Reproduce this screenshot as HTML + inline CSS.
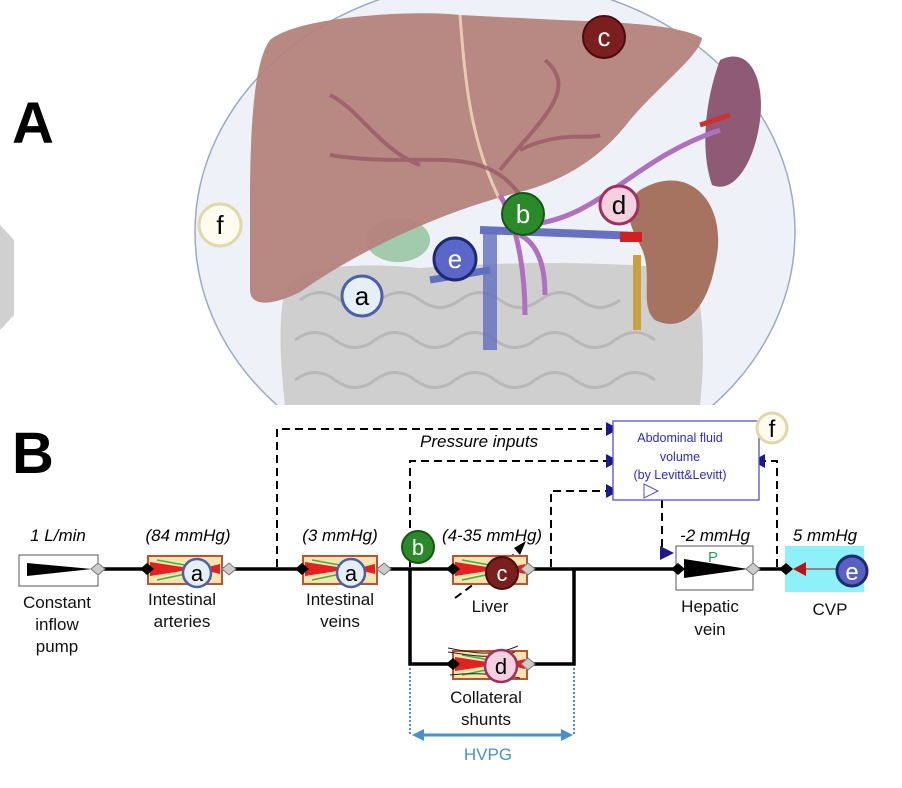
<!DOCTYPE html>
<html><head><meta charset="utf-8"><style>
html,body{margin:0;padding:0;background:#fff;}
svg{display:block;font-family:"Liberation Sans",sans-serif;}
</style></head><body>
<svg width="902" height="788" viewBox="0 0 902 788" xmlns="http://www.w3.org/2000/svg">
<defs>
<clipPath id="top"><rect x="0" y="0" width="902" height="405"/></clipPath>
</defs>
<!-- Panel A -->
<text x="12" y="143" font-size="58" font-weight="bold">A</text>
<path d="M0,225 L14,240 L14,315 L0,330Z" fill="#d0d0d0"/>
<g clip-path="url(#top)">
<ellipse cx="495" cy="232" rx="300" ry="252" fill="#eef2f8" stroke="#9aaac4" stroke-width="1.5"/>
<!-- intestines -->
<path d="M285,290 C300,265 360,262 420,268 C500,262 600,260 690,270 C705,300 705,360 700,405 L285,405 C280,360 278,320 285,290Z" fill="#cfcfcf"/>
<g fill="none" stroke="#b8b8b8" stroke-width="3">
<path d="M300,300 q20,-15 40,0 q20,15 40,0 q20,-15 40,0 q20,15 40,0 q20,-15 40,0 q20,15 40,0 q20,-15 40,0 q20,15 40,0"/>
<path d="M295,340 q20,-15 40,0 q20,15 40,0 q20,-15 40,0 q20,15 40,0 q20,-15 40,0 q20,15 40,0 q20,-15 40,0 q20,15 40,0 q20,-15 40,0"/>
<path d="M295,380 q20,-15 40,0 q20,15 40,0 q20,-15 40,0 q20,15 40,0 q20,-15 40,0 q20,15 40,0 q20,-15 40,0 q20,15 40,0 q20,-15 40,0"/>
</g>
<ellipse cx="398" cy="240" rx="32" ry="22" fill="#8fbf98" opacity="0.8"/>
<!-- liver -->
<path d="M270,40 C300,15 420,10 460,15 L560,20 C620,22 680,25 702,38 C700,55 660,85 630,120 C600,160 560,182 520,192 C440,212 360,250 300,292 C270,307 250,306 250,290 L250,200 C250,120 255,60 270,40Z" fill="#b4827c" opacity="0.95"/>
<path d="M460,15 C465,80 470,140 500,200" stroke="#e6cdb0" stroke-width="3" fill="none"/>
<g fill="none" stroke="#9a5a68" stroke-width="4" opacity="0.8">
<path d="M520,195 C480,140 420,170 330,155 M420,165 C380,150 360,110 330,95 M500,170 C540,120 580,90 545,60 M520,150 C560,130 590,140 600,135"/>
</g>
<!-- spleen -->
<path d="M720,60 C750,45 765,80 760,120 C755,160 735,195 712,185 C700,150 705,100 720,60Z" fill="#8e5a75"/>
<!-- kidney -->
<path d="M640,190 C690,160 730,205 715,265 C708,305 685,335 655,320 C638,305 655,272 640,245 C628,222 622,205 640,190Z" fill="#a57360"/>
<rect x="633" y="255" width="8" height="75" fill="#c8a040"/>
<!-- vessels -->
<path d="M480,230 L640,236" stroke="#6870c0" stroke-width="8"/>
<path d="M490,232 L490,350" stroke="#6070c0" stroke-width="14" opacity="0.8"/>
<path d="M430,280 L490,270" stroke="#6070c0" stroke-width="7"/>
<g fill="none" stroke="#b070c0" stroke-width="5">
<path d="M500,195 C520,230 525,280 525,315"/>
<path d="M525,225 C600,220 630,160 720,130"/>
<path d="M520,235 C540,245 545,270 545,295"/>
</g>
<rect x="620" y="232" width="22" height="10" fill="#d02020"/>
<path d="M700,125 L730,115" stroke="#d03030" stroke-width="5"/>
</g>
<!-- circles A -->
<g font-size="26" text-anchor="middle">
<circle cx="604" cy="37" r="21" fill="#7a1e1e" stroke="#4a0c0c" stroke-width="2"/><text x="604" y="46" fill="#fff">c</text>
<circle cx="523" cy="214" r="21" fill="#2a8a2a" stroke="#155515" stroke-width="2"/><text x="523" y="223" fill="#fff">b</text>
<circle cx="619" cy="205" r="19" fill="#f5d0e0" stroke="#a03060" stroke-width="3"/><text x="619" y="214" fill="#000">d</text>
<circle cx="455" cy="259" r="21" fill="#5a66c8" stroke="#1e2a70" stroke-width="3"/><text x="455" y="268" fill="#fff">e</text>
<circle cx="362" cy="296" r="20" fill="#e6eef8" stroke="#4a60a8" stroke-width="3"/><text x="362" y="305" fill="#000">a</text>
<circle cx="220" cy="225" r="21" fill="#fffbef" stroke="#e0d8a8" stroke-width="3"/><text x="220" y="234" fill="#000">f</text>
</g>

<!-- Panel B -->
<text x="12" y="473" font-size="58" font-weight="bold">B</text>
<g fill="none" stroke="#000" stroke-width="2" stroke-dasharray="8,5">
<path d="M277,567 L277,429 L608,429"/>
<path d="M410,567 L410,461 L608,461"/>
<path d="M551,567 L551,491 L608,491"/>
<path d="M662,500 L662,553 L672,553"/>
<path d="M777,567 L777,461 L760,461"/>
<path d="M455,598 L520,550"/>
</g>
<g fill="#1a1a8c">
<path d="M606,422 L619,429 L606,436Z"/><path d="M606,454 L619,461 L606,468Z"/><path d="M606,484 L619,491 L606,498Z"/>
<path d="M660,546 L674,553 L660,560Z"/><path d="M765,454 L752,461 L765,468Z"/>
</g>
<path d="M514,548 L526,541 L520,555Z" fill="#000"/>
<rect x="613" y="421" width="146" height="79" fill="#fff" stroke="#5050d0" stroke-width="1.3"/>
<g fill="#2a2ad0" font-size="12.5" text-anchor="middle"><text x="680" y="442">Abdominal fluid</text><text x="680" y="461">volume</text><text x="680" y="479">(by Levitt&amp;Levitt)</text></g>
<path d="M644,484 L658,491 L644,498Z" fill="#fff" stroke="#5050d0"/>
<circle cx="772" cy="428" r="15" fill="#fffbef" stroke="#e0d8a8" stroke-width="3"/><text x="772" y="437" font-size="24" text-anchor="middle">f</text>
<text x="420" y="447" font-size="17" font-style="italic">Pressure inputs</text>
<g stroke="#000" stroke-width="3.5" fill="none">
<path d="M98,569 L676,569"/><path d="M753,569 L790,569"/>
<path d="M410,569 L410,664 L574,664 L574,569"/>
</g>
<rect x="785" y="546" width="79" height="46" fill="#8ef0f8"/>
<path d="M805,569 L840,569" stroke="#888" stroke-width="2"/>
<path d="M793,569 L806,562 L806,576Z" fill="#c01010"/>
<circle cx="852" cy="571" r="15" fill="#5a60c0" stroke="#1e2a70" stroke-width="3"/><text x="852" y="580" font-size="24" fill="#fff" text-anchor="middle">e</text>
<rect x="19" y="555" width="79" height="31" fill="#fff" stroke="#555"/>
<path d="M27,563 L92,569 L27,576Z" fill="#000"/>
<rect x="676" y="546" width="77" height="44" fill="#fff" stroke="#555"/>
<path d="M684,559 L748,569 L684,578Z" fill="#000"/>
<text x="708" y="562" font-size="15" fill="#20a060">P</text>
<g id="cmp">
<rect x="148" y="556" width="74" height="28" fill="#f5e6b0" stroke="#c05030" stroke-width="2"/>
<path d="M150,562 L195,569 L150,576Z" fill="#e52020"/><path d="M220,564 L200,569 L220,574Z" fill="#e52020"/>
<path d="M157,560 L190,566 M157,580 L190,573" stroke="#40b040" stroke-width="1.5"/>
</g>
<use href="#cmp" x="155"/><use href="#cmp" x="305"/><use href="#cmp" x="305" y="95"/>
<g stroke="#222" fill="none" stroke-width="1"><path d="M448,652 C470,655 490,660 515,652 M448,648 C470,652 490,658 518,646 M450,675 C480,672 500,675 520,678"/></g>
<g fill="#000"><path d="M140,569 L147,563 L154,569 L147,575Z"/><path d="M295,569 L302,563 L309,569 L302,575Z"/><path d="M446,569 L453,563 L460,569 L453,575Z"/><path d="M446,664 L453,658 L460,664 L453,670Z"/><path d="M671,569 L678,563 L685,569 L678,575Z"/><path d="M779,569 L786,563 L793,569 L786,575Z"/></g>
<g fill="#ccc" stroke="#777"><path d="M91,569 L98,563 L105,569 L98,575Z"/><path d="M222,569 L229,563 L236,569 L229,575Z"/><path d="M377,569 L384,563 L391,569 L384,575Z"/><path d="M521,569 L528,563 L535,569 L528,575Z"/><path d="M521,664 L528,658 L535,664 L528,670Z"/><path d="M746,569 L753,563 L760,569 L753,575Z"/></g>
<g font-size="22" text-anchor="middle">
<circle cx="197" cy="573" r="14" fill="#e6eef8" stroke="#4a60a8" stroke-width="2.5"/><text x="197" y="581">a</text>
<circle cx="351" cy="573" r="14" fill="#e6eef8" stroke="#4a60a8" stroke-width="2.5"/><text x="351" y="581">a</text>
<circle cx="502" cy="573" r="16" fill="#7a1e1e" stroke="#4a0c0c" stroke-width="2"/><text x="502" y="581" fill="#fff">c</text>
<circle cx="501" cy="666" r="16" fill="#f5d0e0" stroke="#a03060" stroke-width="2.5"/><text x="501" y="674">d</text>
<circle cx="418" cy="547" r="16" fill="#2a8a2a" stroke="#155515" stroke-width="2"/><text x="418" y="555" fill="#fff">b</text>
</g>
<g stroke="#4a90d0" stroke-width="2" stroke-dasharray="2,2"><path d="M410,668 L410,735"/><path d="M574,668 L574,735"/></g>
<path d="M420,735 L565,735" stroke="#4a90d0" stroke-width="3"/>
<path d="M412,735 L424,729 L424,741Z M573,735 L561,729 L561,741Z" fill="#4a90d0"/>
<text x="488" y="760" font-size="17" fill="#4a90d0" text-anchor="middle">HVPG</text>
<g font-size="17" font-style="italic" text-anchor="middle">
<text x="58" y="541">1 L/min</text><text x="188" y="541">(84 mmHg)</text><text x="340" y="541">(3 mmHg)</text><text x="492" y="541">(4-35 mmHg)</text><text x="715" y="541">-2 mmHg</text><text x="825" y="541">5 mmHg</text>
</g>
<g font-size="17" text-anchor="middle" fill="#111">
<text x="57" y="608">Constant</text><text x="57" y="630">inflow</text><text x="57" y="652">pump</text>
<text x="182" y="605">Intestinal</text><text x="182" y="627">arteries</text>
<text x="340" y="605">Intestinal</text><text x="340" y="627">veins</text>
<text x="490" y="612">Liver</text>
<text x="486" y="703">Collateral</text><text x="486" y="725">shunts</text>
<text x="710" y="612">Hepatic</text><text x="710" y="635">vein</text>
<text x="830" y="615">CVP</text>
</g>
</svg>
</body></html>
